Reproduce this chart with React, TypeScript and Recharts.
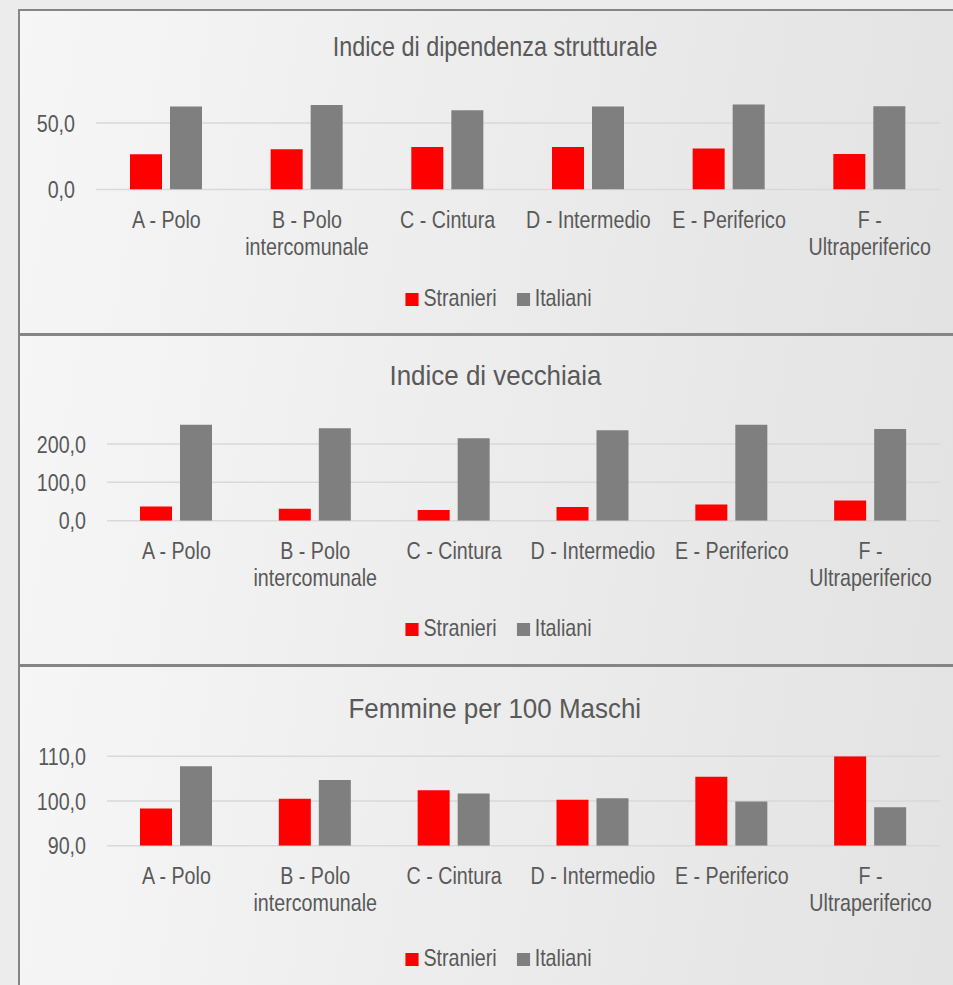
import React from "react";
import { BarChart, Bar, XAxis, YAxis, CartesianGrid, Legend } from "recharts";

const categoryLines: string[][] = [
  ["A - Polo"],
  ["B - Polo", "intercomunale"],
  ["C - Cintura"],
  ["D - Intermedio"],
  ["E - Periferico"],
  ["F -", "Ultraperiferico"],
];
const categories = categoryLines.map((l) => l.join(" "));

const dipStranieri = [26.5, 30.3, 31.9, 31.9, 30.8, 26.7];
const dipItaliani = [62.5, 63.6, 59.5, 62.5, 63.9, 62.6];

const vecStranieri = [37, 31, 28, 36, 42, 53];
const vecItaliani = [250, 241, 215, 236, 250, 239];

const femStranieri = [98.3, 100.5, 102.4, 100.3, 105.4, 110.0];
const femItaliani = [107.8, 104.7, 101.7, 100.6, 99.9, 98.6];

const ticks1 = [0, 50];
const ticks2 = [0, 100, 200];
const ticks3 = [90, 100, 110];

const titles = [
  "Indice di dipendenza strutturale",
  "Indice di vecchiaia",
  "Femmine per 100 Maschi",
];
const seriesNames = ["Stranieri", "Italiani"];
const RED = "#ff0000";
const GREY = "#7f7f7f";
const TEXT = "#595959";
const FONT = "'Liberation Sans', Arial, sans-serif";
const SX = 0.82;

const build = (a: number[], b: number[]) =>
  categories.map((c, i) => ({ name: c, Stranieri: a[i], Italiani: b[i] }));

const fmt = (v: number) => v.toFixed(1).replace(".", ",");

const CatTick = (props: any) => {
  const { x, y, index } = props;
  const lines = categoryLines[index] || [String(props.payload?.value)];
  return (
    <text
      transform={`translate(${x},${y}) scale(${SX},1)`}
      textAnchor="middle"
      fill={TEXT}
      fontSize={24}
      fontFamily={FONT}
    >
      {lines.map((l, i) => (
        <tspan key={i} x={0} y={38.5 + i * 27}>
          {l}
        </tspan>
      ))}
    </text>
  );
};

const ValTick = (props: any) => {
  const { x, y, payload } = props;
  return (
    <text
      transform={`translate(${x},${y}) scale(${SX},1)`}
      textAnchor="end"
      fill={TEXT}
      fontSize={24}
      fontFamily={FONT}
      dy="0.36em"
    >
      {fmt(payload.value)}
    </text>
  );
};

const LegendContent = () => (
  <div style={{ textAlign: "center", whiteSpace: "nowrap" }}>
    <div
      style={{
        display: "inline-block",
        transform: `scaleX(${SX})`,
        transformOrigin: "center",
        fontFamily: FONT,
        fontSize: 24,
        lineHeight: "24px",
        color: TEXT,
      }}
    >
      {seriesNames.map((n, i) => (
        <span key={n} style={{ marginRight: i === 0 ? 20 / SX : 0 }}>
          <span
            style={{
              display: "inline-block",
              width: 13 / SX,
              height: 13,
              background: i === 0 ? RED : GREY,
              marginRight: 5 / SX,
              verticalAlign: "baseline",
            }}
          />
          {n}
        </span>
      ))}
    </div>
  </div>
);

type PanelProps = {
  top: number;
  height: number;
  title: string;
  titleTop: number;
  titleScale: number;
  legendTop: number;
  data: any[];
  domain: [number, number];
  ticks: number[];
  plotLeft: number;
  plotTop: number;
  axisY: number;
};

const CHART_W = 971;

const Panel = (p: PanelProps) => {
  const xAxisH = 40;
  const marginTop = p.plotTop - p.top;
  const marginBottom = p.top + p.height - p.axisY - xAxisH;
  return (
    <>
      <div
        style={{
          position: "absolute",
          left: 18,
          top: p.top,
          width: 960,
          height: p.height,
          boxSizing: "border-box",
          border: "2px solid #858585",
          background: "linear-gradient(100deg, #f6f6f6 0%, #e2e2e2 100%)",
        }}
      />
      <div
        style={{
          position: "absolute",
          left: 19,
          width: 952,
          top: p.titleTop,
          textAlign: "center",
          whiteSpace: "nowrap",
        }}
      >
        <span
          style={{
            display: "inline-block",
            transform: `scaleX(${p.titleScale})`,
            transformOrigin: "center",
            fontFamily: FONT,
            fontSize: 28.5,
            lineHeight: "28px",
            color: TEXT,
          }}
        >
          {p.title}
        </span>
      </div>
      <div style={{ position: "absolute", left: 0, top: p.top }}>
        <BarChart
          width={CHART_W}
          height={p.height}
          data={p.data}
          margin={{ top: marginTop, right: CHART_W - 940, bottom: marginBottom, left: 0 }}
          barSize={32}
          barGap={8}
        >
          <CartesianGrid
            vertical={false}
            stroke="#d9d9d9"
            strokeWidth={1.5}
            horizontalValues={p.ticks}
          />
          <XAxis
            dataKey="name"
            height={xAxisH}
            interval={0}
            tickLine={false}
            tickSize={0}
            tickMargin={0}
            axisLine={false}
            tick={<CatTick />}
          />
          <YAxis
            width={p.plotLeft}
            domain={p.domain}
            ticks={p.ticks}
            allowDataOverflow
            axisLine={false}
            tickLine={false}
            tickSize={0}
            tickMargin={21}
            tick={<ValTick />}
          />
          <Legend
            verticalAlign="middle"
            align="center"
            content={<LegendContent />}
            wrapperStyle={{ top: p.legendTop - p.top, left: 22, width: 952 }}
          />
          <Bar dataKey="Stranieri" fill={RED} isAnimationActive={false} />
          <Bar dataKey="Italiani" fill={GREY} isAnimationActive={false} />
        </BarChart>
      </div>
    </>
  );
};

export default function App() {
  return (
    <>
      <style>{`html,body{margin:0;padding:0;overflow:hidden;}`}</style>
      <div
        style={{
          position: "relative",
          width: 953,
          height: 985,
          overflow: "hidden",
          background: "#ececec",
        }}
      >
        <Panel
          top={9}
          height={326}
          title={titles[0]}
          titleTop={32.3}
          titleScale={0.82}
          legendTop={285.5}
          data={build(dipStranieri, dipItaliani)}
          domain={[0, 70]}
          ticks={ticks1}
          plotLeft={96}
          plotTop={96.4}
          axisY={189.5}
        />
        <Panel
          top={334}
          height={332}
          title={titles[1]}
          titleTop={360.8}
          titleScale={0.91}
          legendTop={616}
          data={build(vecStranieri, vecItaliani)}
          domain={[0, 300]}
          ticks={ticks2}
          plotLeft={107}
          plotTop={405.7}
          axisY={520.7}
        />
        <Panel
          top={665}
          height={330}
          title={titles[2]}
          titleTop={693.5}
          titleScale={0.91}
          legendTop={945.5}
          data={build(femStranieri, femItaliani)}
          domain={[90, 110]}
          ticks={ticks3}
          plotLeft={107}
          plotTop={756.3}
          axisY={845.7}
        />
      </div>
    </>
  );
}
